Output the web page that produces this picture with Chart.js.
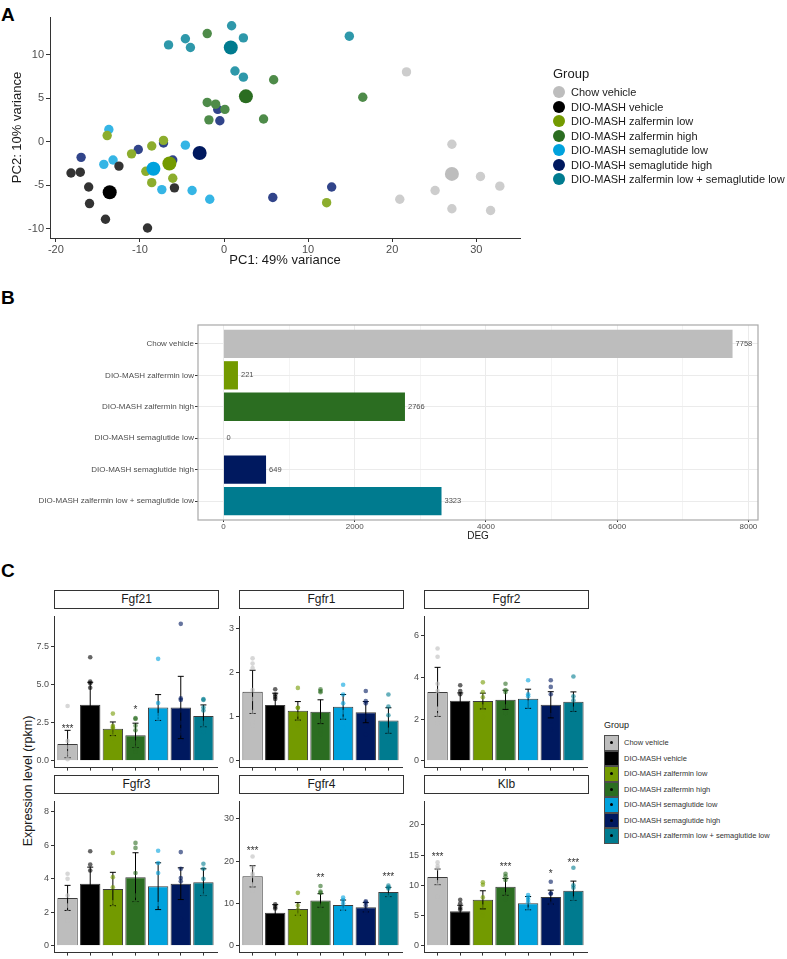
<!DOCTYPE html>
<html>
<head>
<meta charset="utf-8">
<title>Zalfermin / semaglutide liver transcriptomics</title>
<script src="https://cdn.jsdelivr.net/npm/chart.js@4.4.1/dist/chart.umd.min.js"></script>
<style>
  body { margin: 0; background: #fff; font-family: "Liberation Sans", Arial, sans-serif; }
  #page { position: relative; width: 787px; height: 959px; overflow: hidden; }
  canvas { position: absolute; }
  .tag { position: absolute; left: 1px; font-weight: bold; font-size: 19px; line-height: 19px; color: #000; }
  .strip { position: absolute; box-sizing: border-box; height: 19px; border: 1.5px solid #333; background: #fff;
           font-size: 12px; line-height: 16px; text-align: center; color: #1a1a1a; }
  .ytitle { position: absolute; font-size: 12.5px; color: #1a1a1a; white-space: nowrap;
            transform: translate(-50%, -50%) rotate(-90deg); }
  .legend { position: absolute; color: #1a1a1a; white-space: nowrap; }
  .legend .item { position: absolute; }
</style>
</head>
<body>
<div id="page">
  <div class="tag" style="top:5px">A</div>
  <div class="tag" style="top:288px">B</div>
  <div class="tag" style="top:561px">C</div>

  <canvas id="pca" width="787" height="280" style="left:0;top:0"></canvas>
  <div id="legendA" class="legend"></div>

  <canvas id="deg" width="787" height="280" style="left:0;top:280px"></canvas>

  <div class="ytitle" style="left:28px;top:781px">Expression level (rpkm)</div>
  <canvas id="cFgf21" width="191" height="166" style="left:30px;top:609px"></canvas>
  <canvas id="cFgfr1" width="185" height="166" style="left:221px;top:609px"></canvas>
  <canvas id="cFgfr2" width="185" height="166" style="left:406px;top:609px"></canvas>
  <canvas id="cFgfr3" width="191" height="166" style="left:30px;top:794px"></canvas>
  <canvas id="cFgfr4" width="185" height="166" style="left:221px;top:794px"></canvas>
  <canvas id="cKlb" width="185" height="166" style="left:406px;top:794px"></canvas>
  <div id="legendC" class="legend"></div>
</div>

<script>
// Groups shared by all three panels
const groups = ['Chow vehicle', 'DIO-MASH vehicle', 'DIO-MASH zalfermin low', 'DIO-MASH zalfermin high',
                'DIO-MASH semaglutide low', 'DIO-MASH semaglutide high', 'DIO-MASH zalfermin low + semaglutide low'];
const groupColors = ['#bdbdbd', '#000000', '#739a00', '#2b6d21', '#00a2dd', '#00195f', '#007b8f'];
const sampleColors = ['#cdcdcd', '#333333', '#8cad2d', '#4e8b49', '#35b5e5', '#31448a', '#2e98aa'];
const dotColors = ['rgba(189,189,189,0.6)', 'rgba(0,0,0,0.6)', 'rgba(115,154,0,0.6)', 'rgba(43,109,33,0.6)',
                   'rgba(0,162,221,0.6)', 'rgba(0,25,95,0.6)', 'rgba(0,123,143,0.6)'];

// Panel A: PCA sample scores
const pc1Chow = [21.7, 27.1, 30.5, 32.8, 25.1, 20.9, 27.1, 31.7];
const pc2Chow = [8.0, -0.3, -4.0, -5.1, -5.6, -6.6, -7.7, -7.9];
const pc1Vehicle = [-18.2, -17.1, -16.1, -16.0, -14.1, -12.5, -9.1, -5.9];
const pc2Vehicle = [-3.6, -3.5, -5.2, -7.1, -8.9, -2.8, -9.9, -5.3];
const pc1ZalLow = [-13.9, -11.0, -8.6, -7.2, -9.3, -8.6, -6.1, 12.2];
const pc2ZalLow = [0.7, -1.4, -0.5, 0.15, -3.4, -4.7, -4.2, -7.0];
const pc1ZalHigh = [-2.0, 5.9, 16.5, -2.0, -1.0, 0.1, -1.8, 4.7];
const pc2ZalHigh = [12.4, 7.1, 5.1, 4.5, 4.3, 3.7, 2.5, 2.6];
const pc1SemaLow = [-13.7, -14.3, -13.2, -4.6, -7.4, -3.8, -1.7];
const pc2SemaLow = [1.4, -2.6, -2.1, -0.4, -5.5, -5.6, -6.6];
const pc1SemaHigh = [-17.0, -10.2, -7.2, -6.1, -0.75, -0.5, 5.8, 12.8];
const pc2SemaHigh = [-1.8, -0.9, -0.15, -2.1, 3.7, 2.4, -6.4, -5.2];
const pc1Combo = [-6.6, -4.6, -4.0, 0.9, 2.3, 1.3, 2.3, 14.9];
const pc2Combo = [11.1, 11.8, 10.8, 13.3, 11.9, 8.1, 7.4, 12.1];
const centroidPC1 = [27.1, -13.6, -6.5, 2.6, -8.4, -2.9, 0.8];
const centroidPC2 = [-3.7, -5.8, -2.5, 5.2, -3.1, -1.3, 10.8];
const pc1Ticks = [-20, -10, 0, 10, 20, 30];
const pc2Ticks = [-10, -5, 0, 5, 10];

// Panel B: number of differentially expressed genes
const degGroups = ['Chow vehicle', 'DIO-MASH zalfermin low', 'DIO-MASH zalfermin high',
                   'DIO-MASH semaglutide low', 'DIO-MASH semaglutide high', 'DIO-MASH zalfermin low + semaglutide low'];
const degCounts = [7758, 221, 2766, 0, 649, 3323];
const degColors = ['#bdbdbd', '#739a00', '#2b6d21', '#00a2dd', '#00195f', '#007b8f'];
const degTicks = [0, 1000, 2000, 3000, 4000, 5000, 6000, 7000, 8000];

// Panel C: expression level (rpkm), mean, SD, individual animals, significance
const fgf21Mean = [1.1, 3.68, 2.1, 1.67, 3.5, 3.5, 2.95];
const fgf21Sd = [0.9, 1.48, 0.45, 0.8, 0.85, 2.05, 0.72];
const fgf21Pts = [[3.6, 1.3, 0.9, 0.5, 0.2, 0.1], [6.8, 5.2, 5.1, 4.8, 2.6, 2.4, 1.9, 0.6], [3.1, 2.3, 2.2, 2.1, 1.8, 1.6, 1.5],
                  [2.8, 2.75, 2.3, 2.0, 1.2, 0.9, 0.6, 0.8], [6.7, 3.8, 3.0, 2.8, 2.6, 2.2], [9.0, 4.1, 4.0, 3.3, 2.0, 2.5, 1.8, 1.3],
                  [4.05, 4.0, 3.5, 3.3, 2.5, 2.2, 1.9, 2.15]];
const fgf21Sig = ['***', '', '', '*', '', '', ''];
const fgf21SigY = [2.3, 0, 0, 3.5, 0, 0, 0];

const fgfr1Mean = [1.56, 1.26, 1.13, 1.11, 1.22, 1.10, 0.91];
const fgfr1Sd = [0.49, 0.27, 0.21, 0.27, 0.28, 0.24, 0.29];
const fgfr1Pts = [[2.32, 2.2, 2.1, 1.6, 1.1, 0.9, 0.8, 1.4], [1.62, 1.5, 1.45, 1.4, 1.1, 1.0, 0.95, 1.05], [1.65, 1.2, 1.2, 1.05, 0.9, 0.8],
                  [1.62, 1.58, 1.55, 0.9, 0.8, 0.7, 0.6], [1.72, 1.5, 1.3, 1.1, 0.95, 0.75], [1.58, 1.35, 1.3, 1.0, 0.8, 0.6],
                  [1.5, 1.23, 1.03, 0.7, 0.6, 0.4]];
const fgfr1Sig = ['', '', '', '', '', '', ''];
const fgfr1SigY = [0, 0, 0, 0, 0, 0, 0];

const fgfr2Mean = [3.31, 2.89, 2.87, 2.93, 2.98, 2.69, 2.84];
const fgfr2Sd = [1.18, 0.37, 0.38, 0.46, 0.46, 0.63, 0.47];
const fgfr2Pts = [[5.4, 5.0, 3.7, 3.35, 2.5, 2.2, 1.8, 2.5], [3.63, 3.35, 3.2, 2.7, 2.5, 2.4], [3.77, 3.3, 3.05, 2.6, 2.4, 2.1],
                  [3.7, 3.4, 3.3, 2.6, 2.3, 2.3], [3.87, 3.2, 3.1, 2.8, 2.6, 2.3], [3.87, 3.55, 3.2, 2.2, 1.9, 1.5],
                  [4.05, 3.1, 2.9, 2.5, 2.3, 2.2]];
const fgfr2Sig = ['', '', '', '', '', '', ''];
const fgfr2SigY = [0, 0, 0, 0, 0, 0, 0];

const fgfr3Mean = [2.86, 3.71, 3.39, 4.1, 3.56, 3.71, 3.8];
const fgfr3Sd = [0.75, 0.99, 1.0, 1.46, 1.4, 0.95, 0.8];
const fgfr3Pts = [[4.3, 4.0, 3.0, 2.4, 2.0, 1.5], [5.65, 4.85, 4.5, 3.0, 2.6, 1.7], [5.55, 4.1, 3.5, 2.6, 2.3, 2.3],
                  [6.15, 5.85, 4.35, 3.0, 2.6, 2.6], [5.68, 4.95, 4.35, 2.5, 2.0, 1.9], [5.6, 4.6, 4.05, 3.85, 2.6, 1.6],
                  [4.9, 4.6, 4.0, 3.3, 3.0, 3.0]];
const fgfr3Sig = ['', '', '', '', '', '', ''];
const fgfr3SigY = [0, 0, 0, 0, 0, 0, 0];

const fgfr4Mean = [16.4, 7.8, 8.7, 10.7, 9.6, 9.1, 12.7];
const fgfr4Sd = [2.5, 1.9, 1.5, 1.6, 1.2, 1.1, 1.1];
const fgfr4Pts = [[21.1, 18.5, 17.0, 16.5, 14.5, 13.0, 14.2], [9.8, 9.2, 8.8, 7.0, 6.0, 6.0], [12.5, 9.5, 8.5, 7.5, 7.0, 7.2],
                  [14.1, 12.8, 12.5, 9.5, 8.5, 8.3, 9.2], [11.4, 10.8, 10.0, 9.0, 8.5, 8.0], [10.5, 10.2, 9.5, 8.5, 8.0, 8.0],
                  [14.2, 13.8, 13.5, 12.0, 11.5, 11.2]];
const fgfr4Sig = ['***', '', '', '**', '', '', '***'];
const fgfr4SigY = [23.0, 0, 0, 16.7, 0, 0, 16.8];

const klbMean = [11.4, 5.7, 7.6, 9.75, 7.05, 8.05, 9.1];
const klbSd = [1.3, 1.0, 1.5, 1.4, 1.1, 1.15, 1.6];
const klbPts = [[13.8, 13.2, 12.8, 10.5, 10.0, 8.1], [7.6, 7.0, 6.3, 6.0, 4.5, 3.8, 4.7], [10.5, 10.1, 8.0, 6.5, 5.5, 5.0],
                [11.9, 11.5, 10.9, 8.5, 8.0, 7.7], [8.4, 8.0, 7.6, 7.2, 6.0, 5.1], [10.6, 8.7, 8.6, 7.0, 6.8, 6.6],
                [12.9, 10.0, 9.6, 7.8, 7.5, 6.8]];
const klbSig = ['***', '', '', '***', '', '*', '***'];
const klbSigY = [15.1, 0, 0, 13.5, 0, 12.4, 14.2];

Chart.defaults.font.family = '"Liberation Sans", Arial, sans-serif';
Chart.defaults.animation = false;
Chart.defaults.events = [];
Chart.defaults.plugins.legend.display = false;
Chart.defaults.plugins.tooltip.enabled = false;

const AXIS = '#333333';
const TICK_TXT = '#4d4d4d';

// ---------- Panel A ----------
const pcaX = [pc1Chow, pc1Vehicle, pc1ZalLow, pc1ZalHigh, pc1SemaLow, pc1SemaHigh, pc1Combo];
const pcaY = [pc2Chow, pc2Vehicle, pc2ZalLow, pc2ZalHigh, pc2SemaLow, pc2SemaHigh, pc2Combo];

const pcaDatasets = groups.map((g, i) => ({
    label: g,
    data: pcaX[i].map((x, j) => ({ x: x, y: pcaY[i][j] })),
    backgroundColor: sampleColors[i],
    borderWidth: 0,
    pointRadius: 4.7,
    order: 1
}));
pcaDatasets.push({
    label: 'centroid',
    data: centroidPC1.map((x, i) => ({ x: x, y: centroidPC2[i] })),
    backgroundColor: groupColors,
    borderWidth: 0,
    pointRadius: 7,
    order: 0
});

new Chart(document.getElementById('pca'), {
    type: 'scatter',
    data: { datasets: pcaDatasets },
    options: {
        responsive: false,
        layout: { padding: { top: 17, right: 267, left: 0, bottom: 0 } },
        scales: {
            x: {
                type: 'linear', min: -20.7, max: 35.2,
                afterBuildTicks: s => { s.ticks = pc1Ticks.map(v => ({ value: v })); },
                afterFit: s => { s.height = 42; },
                grid: { drawOnChartArea: false, tickLength: 4, tickColor: AXIS },
                border: { color: AXIS, width: 1 },
                ticks: { color: TICK_TXT, font: { size: 11 }, padding: 1, maxRotation: 0 },
                title: { display: true, text: 'PC1: 49% variance', color: '#1a1a1a', font: { size: 13 },
                         padding: { top: 0, bottom: 12 } }
            },
            y: {
                type: 'linear', min: -11.05, max: 14.3,
                afterBuildTicks: s => { s.ticks = pc2Ticks.map(v => ({ value: v })); },
                afterFit: s => { s.width = 50; },
                grid: { drawOnChartArea: false, tickLength: 4, tickColor: AXIS },
                border: { color: AXIS, width: 1 },
                ticks: { color: TICK_TXT, font: { size: 11 }, padding: 2 },
                title: { display: true, text: 'PC2: 10% variance', color: '#1a1a1a', font: { size: 13 },
                         padding: { top: 10, bottom: 0 } }
            }
        }
    }
});

// legend for A (ggplot style, circles)
(function () {
    const box = document.getElementById('legendA');
    box.style.left = '553px';
    box.style.top = '0px';
    let html = '<div class="item" style="left:0;top:66px;font-size:13px">Group</div>';
    groups.forEach((g, i) => {
        const cy = 92.3 + 14.45 * i;
        html += '<div class="item" style="left:0;top:' + (cy - 6) + 'px;width:12px;height:12px;border-radius:6px;background:' +
                groupColors[i] + '"></div>';
        html += '<div class="item" style="left:18px;top:' + (cy - 7) + 'px;font-size:11px;line-height:14px">' + g + '</div>';
    });
    box.innerHTML = html;
})();

// ---------- Panel B ----------
const panelBorder = {
    id: 'panelBorder',
    afterDraw(chart) {
        const { ctx, chartArea: a } = chart;
        ctx.save();
        ctx.strokeStyle = '#a8a8a8';
        ctx.lineWidth = 1.2;
        ctx.strokeRect(a.left, a.top, a.width, a.height);
        ctx.restore();
    }
};

const barValueLabels = {
    id: 'barValueLabels',
    afterDatasetsDraw(chart) {
        const { ctx } = chart;
        const meta = chart.getDatasetMeta(0);
        ctx.save();
        ctx.fillStyle = TICK_TXT;
        ctx.font = '7.5px "Liberation Sans", Arial, sans-serif';
        ctx.textBaseline = 'middle';
        meta.data.forEach((bar, i) => {
            ctx.fillText(String(degCounts[i]), bar.x + 3, bar.y);
        });
        ctx.restore();
    }
};

new Chart(document.getElementById('deg'), {
    type: 'bar',
    data: {
        datasets: [{
            label: 'DEG',
            data: degCounts.map((v, i) => ({ x: v, y: i })),
            backgroundColor: degColors,
            borderWidth: 0,
            categoryPercentage: 0.9,
            barPercentage: 1
        }]
    },
    options: {
        responsive: false,
        indexAxis: 'y',
        layout: { padding: { top: 45, right: 29, left: 0, bottom: 0 } },
        scales: {
            x: {
                type: 'linear', min: -388, max: 8146,
                afterBuildTicks: s => { s.ticks = degTicks.map(v => ({ value: v })); },
                afterFit: s => { s.height = 40; },
                grid: {
                    color: c => (c.tick && c.tick.value % 2000 !== 0) ? '#f4f4f4' : '#ebebeb',
                    tickColor: c => (c.tick && c.tick.value % 2000 !== 0) ? 'rgba(0,0,0,0)' : AXIS,
                    tickLength: 2
                },
                border: { display: false },
                ticks: {
                    color: TICK_TXT, font: { size: 8 }, padding: 0, maxRotation: 0, autoSkip: false,
                    callback: v => (v % 2000 === 0 ? String(v) : '')
                },
                title: { display: true, text: 'DEG', color: '#1a1a1a', font: { size: 10 },
                         padding: { top: 0, bottom: 18 } }
            },
            y: {
                type: 'linear', reverse: true, min: -0.6, max: 5.6, offset: false,
                afterBuildTicks: s => { s.ticks = degGroups.map((g, i) => ({ value: i })); },
                afterFit: s => { s.width = 198; },
                grid: { color: '#ebebeb', tickColor: AXIS, tickLength: 3, offset: false },
                border: { display: false },
                ticks: { color: TICK_TXT, font: { size: 8 }, padding: 1, autoSkip: false,
                         callback: v => degGroups[v] }
            }
        }
    },
    plugins: [panelBorder, barValueLabels]
});

// ---------- Panel C ----------
const genePanels = [
    { id: 'cFgf21', name: 'Fgf21', mean: fgf21Mean, sd: fgf21Sd, pts: fgf21Pts, sig: fgf21Sig, sigY: fgf21SigY,
      min: -0.45, max: 9.49, ticks: [0, 2.5, 5, 7.5], fmt: v => v.toFixed(1), yw: 24, strip: [54, 590] },
    { id: 'cFgfr1', name: 'Fgfr1', mean: fgfr1Mean, sd: fgfr1Sd, pts: fgfr1Pts, sig: fgfr1Sig, sigY: fgfr1SigY,
      min: -0.156, max: 3.27, ticks: [0, 1, 2, 3], fmt: v => String(v), yw: 18, strip: [239, 590] },
    { id: 'cFgfr2', name: 'Fgfr2', mean: fgfr2Mean, sd: fgfr2Sd, pts: fgfr2Pts, sig: fgfr2Sig, sigY: fgfr2SigY,
      min: -0.33, max: 6.94, ticks: [0, 2, 4, 6], fmt: v => String(v), yw: 18, strip: [424, 590] },
    { id: 'cFgfr3', name: 'Fgfr3', mean: fgfr3Mean, sd: fgfr3Sd, pts: fgfr3Pts, sig: fgfr3Sig, sigY: fgfr3SigY,
      min: -0.41, max: 8.63, ticks: [0, 2, 4, 6, 8], fmt: v => String(v), yw: 24, strip: [54, 775] },
    { id: 'cFgfr4', name: 'Fgfr4', mean: fgfr4Mean, sd: fgfr4Sd, pts: fgfr4Pts, sig: fgfr4Sig, sigY: fgfr4SigY,
      min: -1.62, max: 34.1, ticks: [0, 10, 20, 30], fmt: v => String(v), yw: 18, strip: [239, 775] },
    { id: 'cKlb', name: 'Klb', mean: klbMean, sd: klbSd, pts: klbPts, sig: klbSig, sigY: klbSigY,
      min: -1.14, max: 23.9, ticks: [0, 5, 10, 15, 20], fmt: v => String(v), yw: 18, strip: [424, 775] }
];

function makeGeneChart(p) {
    // strip header above the panel
    const strip = document.createElement('div');
    strip.className = 'strip';
    strip.style.left = p.strip[0] + 'px';
    strip.style.top = p.strip[1] + 'px';
    strip.style.width = '165px';
    strip.textContent = p.name;
    document.getElementById('page').appendChild(strip);

    const ptData = [], ptColors = [];
    p.pts.forEach((arr, i) => {
        arr.forEach(v => { ptData.push({ x: i, y: v }); ptColors.push(dotColors[i]); });
    });

    const errorBars = {
        id: 'errorBars',
        afterDatasetDraw(chart, args) {
            if (args.meta.type !== 'bar') return;
            const { ctx, scales: { x, y } } = chart;
            ctx.save();
            ctx.strokeStyle = '#000';
            ctx.lineWidth = 1;
            p.mean.forEach((m, i) => {
                const px = x.getPixelForValue(i);
                const top = y.getPixelForValue(m + p.sd[i]);
                const bot = y.getPixelForValue(m - p.sd[i]);
                ctx.beginPath();
                ctx.moveTo(px, top); ctx.lineTo(px, bot);
                ctx.moveTo(px - 3, top); ctx.lineTo(px + 3, top);
                ctx.moveTo(px - 3, bot); ctx.lineTo(px + 3, bot);
                ctx.stroke();
            });
            ctx.restore();
        }
    };

    const sigLabels = {
        id: 'sigLabels',
        afterDraw(chart) {
            const { ctx, scales: { x, y } } = chart;
            ctx.save();
            ctx.fillStyle = '#333';
            ctx.font = '10px "Liberation Sans", Arial, sans-serif';
            ctx.textAlign = 'center';
            ctx.textBaseline = 'alphabetic';
            p.sig.forEach((s, i) => {
                if (!s) return;
                ctx.fillText(s, x.getPixelForValue(i), y.getPixelForValue(p.sigY[i]) + 5.8);
            });
            ctx.restore();
        }
    };

    new Chart(document.getElementById(p.id), {
        type: 'bar',
        data: {
            datasets: [
                {
                    type: 'scatter',
                    label: 'animals',
                    data: ptData,
                    backgroundColor: ptColors,
                    borderWidth: 0,
                    pointRadius: 2.3,
                    order: 0
                },
                {
                    type: 'bar',
                    label: p.name,
                    data: p.mean.map((m, i) => ({ x: i, y: m })),
                    backgroundColor: groupColors,
                    borderColor: '#3c3c3c',
                    borderWidth: 1,
                    categoryPercentage: 0.9,
                    barPercentage: 1,
                    order: 1
                }
            ]
        },
        options: {
            responsive: false,
            layout: { padding: { top: 0, right: 2, left: 0, bottom: 0 } },
            scales: {
                x: {
                    type: 'linear', min: -0.6, max: 6.6, offset: false,
                    afterBuildTicks: s => { s.ticks = groups.map((g, i) => ({ value: i })); },
                    afterFit: s => { s.height = 6; },
                    grid: { drawOnChartArea: false, tickLength: 3, tickColor: AXIS, offset: false },
                    border: { color: AXIS, width: 1 },
                    ticks: { display: false }
                },
                y: {
                    type: 'linear', min: p.min, max: p.max,
                    afterBuildTicks: s => { s.ticks = p.ticks.map(v => ({ value: v })); },
                    afterFit: s => { s.width = p.yw; },
                    grid: { drawOnChartArea: false, tickLength: 3, tickColor: AXIS },
                    border: { color: AXIS, width: 1 },
                    ticks: { color: TICK_TXT, font: { size: 9 }, padding: 2, callback: v => p.fmt(v) }
                }
            }
        },
        plugins: [errorBars, sigLabels]
    });
}

genePanels.forEach(makeGeneChart);

// legend for C (filled squares with a dot)
(function () {
    const box = document.getElementById('legendC');
    box.style.left = '604px';
    box.style.top = '0px';
    let html = '<div class="item" style="left:0;top:719px;font-size:9px;line-height:12px">Group</div>';
    groups.forEach((g, i) => {
        const top = 735 + 15.5 * i;
        html += '<div class="item" style="left:0;top:' + top + 'px;width:15px;height:15.5px;box-sizing:border-box;' +
                'border:1px solid #4d4d4d;background:' + groupColors[i] + '"></div>';
        html += '<div class="item" style="left:6px;top:' + (top + 6.2) + 'px;width:3px;height:3px;border-radius:1.5px;background:#000"></div>';
        html += '<div class="item" style="left:20px;top:' + (top + 3) + 'px;font-size:7.5px;line-height:10px;color:#333">' + g + '</div>';
    });
    box.innerHTML = html;
})();
</script>
</body>
</html>
